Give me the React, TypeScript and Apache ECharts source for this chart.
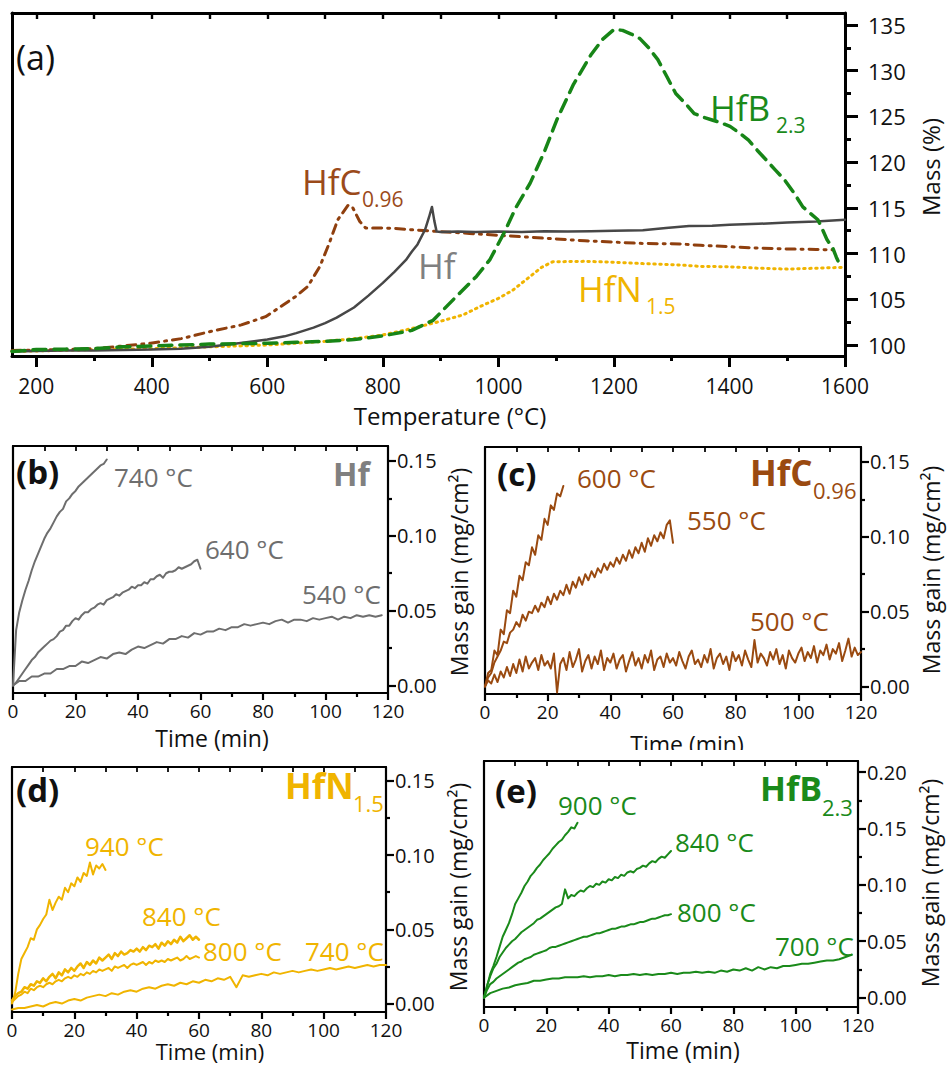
import React, { useEffect, useRef } from "react";
import * as echarts from "echarts";

const FONT = "'Open Sans', 'Noto Sans', 'DejaVu Sans', sans-serif";

// ---------------- Panel (a): TGA, temperature (°C) vs mass (%) ----------------
const tgaHf = [
  [158, 99.3], [200, 99.35], [250, 99.4], [300, 99.4], [350, 99.45], [400, 99.5], [450, 99.6],
  [500, 99.8], [550, 100.2], [600, 100.6], [630, 100.95], [650, 101.3], [680, 101.9], [700, 102.4],
  [720, 103.0], [750, 104.1], [775, 105.4], [800, 106.8], [820, 108.0], [840, 109.3], [850, 110.2],
  [860, 111.0], [873, 112.6], [880, 114.0], [885, 115.1], [889, 113.6], [893, 112.4], [900, 112.35],
  [930, 112.4], [960, 112.35], [1000, 112.4], [1040, 112.35], [1080, 112.45], [1120, 112.4],
  [1160, 112.45], [1200, 112.5], [1250, 112.55], [1290, 112.8], [1330, 113.0], [1370, 113.05],
  [1400, 113.15], [1450, 113.25], [1500, 113.4], [1550, 113.5], [1600, 113.7],
];
const tgaHfC = [
  [158, 99.4], [200, 99.45], [250, 99.5], [300, 99.6], [350, 99.9], [398, 100.2], [451, 100.7],
  [503, 101.5], [555, 102.2], [597, 103.1], [628, 104.4], [649, 105.3], [670, 106.4], [691, 108.6],
  [707, 111.1], [722, 113.7], [740, 115.3], [748, 115.0], [760, 113.5], [770, 112.8], [790, 112.8],
  [820, 112.75], [850, 112.6], [900, 112.4], [950, 112.2], [1000, 112.0], [1050, 111.8],
  [1100, 111.6], [1150, 111.4], [1200, 111.25], [1250, 111.1], [1314, 111.05], [1350, 110.9],
  [1400, 110.75], [1450, 110.6], [1500, 110.5], [1550, 110.45], [1580, 110.4],
];
const tgaHfN = [
  [158, 99.3], [200, 99.35], [300, 99.5], [400, 99.6], [500, 99.8], [600, 100.0], [650, 100.2],
  [700, 100.4], [750, 100.7], [800, 101.1], [850, 101.8], [900, 102.6], [939, 103.3], [968, 104.2],
  [1000, 105.1], [1025, 106.0], [1055, 107.5], [1075, 108.5], [1094, 109.1], [1150, 109.15],
  [1200, 109.05], [1250, 108.9], [1314, 108.75], [1350, 108.6], [1400, 108.55], [1450, 108.4],
  [1500, 108.3], [1550, 108.4], [1600, 108.5],
];
const tgaHfB = [
  [158, 99.3], [200, 99.5], [250, 99.55], [300, 99.6], [350, 99.8], [400, 99.9], [450, 100.0],
  [500, 100.1], [550, 100.15], [600, 100.2], [650, 100.3], [700, 100.4], [750, 100.6], [800, 101.0],
  [850, 101.6], [887, 102.7], [910, 104.2], [935, 105.8], [962, 107.5], [985, 109.3], [1011, 112.4],
  [1030, 115.0], [1055, 117.7], [1080, 121.2], [1101, 124.6], [1130, 128.5], [1160, 131.7],
  [1180, 133.4], [1200, 134.5], [1215, 134.4], [1230, 134.0], [1245, 133.5], [1260, 132.5],
  [1276, 131.2], [1292, 129.3], [1307, 127.5], [1328, 126.1], [1339, 125.3], [1355, 124.9],
  [1370, 124.6], [1385, 124.3], [1401, 123.9], [1417, 123.2], [1433, 122.4], [1448, 121.3],
  [1464, 120.2], [1480, 119.1], [1496, 118.0], [1512, 116.6], [1527, 115.1], [1540, 114.4],
  [1553, 113.7], [1562, 112.5], [1569, 111.5], [1579, 110.6], [1585, 109.6], [1590, 108.9],
];

const aXMajor = [200, 400, 600, 800, 1000, 1200, 1400, 1600];
const aXMinor = [300, 500, 700, 900, 1100, 1300, 1500];
const aXTop = [200, 300, 400, 500, 600, 700, 800, 900, 1000, 1100, 1200, 1300, 1400, 1500, 1600];
const aYMajor = [100, 105, 110, 115, 120, 125, 130, 135];
const aYMinor = [102.5, 107.5, 112.5, 117.5, 122.5, 127.5, 132.5];

// ---------------- Isothermal panels: time (min) vs mass gain (mg/cm²) ----------------
const t30 = [0, 1, 2, 3, 4, 5, 6, 7, 8, 9, 10, 11, 12, 13, 14, 15, 16, 17, 18, 19, 20, 21, 22, 23, 24, 25, 26, 27, 28, 29, 30];
const t60 = [
  0, 1, 2, 3, 4, 5, 6, 7, 8, 9, 10, 11, 12, 13, 14, 15, 16, 17, 18, 19, 20, 21, 22, 23, 24, 25, 26, 27, 28, 29,
  30, 31, 32, 33, 34, 35, 36, 37, 38, 39, 40, 41, 42, 43, 44, 45, 46, 47, 48, 49, 50, 51, 52, 53, 54, 55, 56, 57, 58, 59, 60,
];
const t120s2 = [
  0, 2, 4, 6, 8, 10, 12, 14, 16, 18, 20, 22, 24, 26, 28, 30, 32, 34, 36, 38, 40, 42, 44, 46, 48, 50, 52, 54, 56, 58,
  60, 62, 64, 66, 68, 70, 72, 74, 76, 78, 80, 82, 84, 86, 88, 90, 92, 94, 96, 98, 100, 102, 104, 106, 108, 110, 112, 114, 116, 118, 120,
];
const t120s1 = [
  0, 1, 2, 3, 4, 5, 6, 7, 8, 9, 10, 11, 12, 13, 14, 15, 16, 17, 18, 19, 20, 21, 22, 23, 24, 25, 26, 27, 28, 29,
  30, 31, 32, 33, 34, 35, 36, 37, 38, 39, 40, 41, 42, 43, 44, 45, 46, 47, 48, 49, 50, 51, 52, 53, 54, 55, 56, 57, 58, 59,
  60, 61, 62, 63, 64, 65, 66, 67, 68, 69, 70, 71, 72, 73, 74, 75, 76, 77, 78, 79, 80, 81, 82, 83, 84, 85, 86, 87, 88, 89,
  90, 91, 92, 93, 94, 95, 96, 97, 98, 99, 100, 101, 102, 103, 104, 105, 106, 107, 108, 109, 110, 111, 112, 113, 114, 115, 116, 117, 118, 119, 120,
];

const timeMajor = [0, 20, 40, 60, 80, 100, 120];
const timeMinor = [10, 30, 50, 70, 90, 110];
const timeTop = [0, 10, 20, 30, 40, 50, 60, 70, 80, 90, 100, 110, 120];
const gainMajor = [0, 0.05, 0.1, 0.15];
const gainMinor = [0.025, 0.075, 0.125];
const gainMajorE = [0, 0.05, 0.1, 0.15, 0.2];
const gainMinorE = [0.025, 0.075, 0.125, 0.175];

// (b) Hf
const hf740 = [0, 0.037, 0.049, 0.057, 0.064, 0.070, 0.077, 0.083, 0.088, 0.093, 0.098, 0.102, 0.105, 0.109, 0.113, 0.116, 0.118, 0.123, 0.125, 0.128, 0.130, 0.133, 0.135, 0.137, 0.139, 0.141, 0.143, 0.145, 0.147, 0.148, 0.151];
const hf640 = [
  0.000, 0.002, 0.005, 0.008, 0.011, 0.014, 0.017, 0.019, 0.022, 0.024,
  0.026, 0.028, 0.030, 0.031, 0.033, 0.036, 0.037, 0.040, 0.040, 0.043,
  0.045, 0.044, 0.047, 0.049, 0.049, 0.051, 0.052, 0.054, 0.055, 0.054,
  0.057, 0.058, 0.059, 0.061, 0.060, 0.062, 0.063, 0.064, 0.066, 0.065,
  0.067, 0.067, 0.069, 0.068, 0.071, 0.071, 0.073, 0.074, 0.072, 0.075,
  0.076, 0.076, 0.077, 0.079, 0.078, 0.079, 0.080, 0.081, 0.083, 0.084, 0.078,
];
const hf540 = [
  0.000, 0.003, 0.003, 0.006, 0.006, 0.008, 0.008, 0.011, 0.011, 0.013,
  0.013, 0.016, 0.015, 0.017, 0.019, 0.018, 0.021, 0.022, 0.021, 0.024,
  0.026, 0.025, 0.027, 0.029, 0.028, 0.031, 0.031, 0.033, 0.032, 0.035,
  0.034, 0.036, 0.036, 0.038, 0.037, 0.039, 0.039, 0.041, 0.040, 0.041,
  0.042, 0.041, 0.043, 0.044, 0.042, 0.044, 0.044, 0.043, 0.045, 0.044,
  0.045, 0.046, 0.044, 0.046, 0.045, 0.047, 0.046, 0.047, 0.046, 0.047,
];

// (c) HfC0.96
const hfc600 = [0.000, 0.009, 0.011, 0.024, 0.021, 0.038, 0.035, 0.051, 0.049, 0.064, 0.060, 0.074, 0.071, 0.083, 0.081, 0.093, 0.088, 0.101, 0.098, 0.112, 0.108, 0.121, 0.118, 0.129, 0.127, 0.134];
const hfc550 = [
  0.000, 0.006, 0.009, 0.016, 0.020, 0.024, 0.030, 0.029, 0.036, 0.038,
  0.043, 0.040, 0.048, 0.044, 0.050, 0.049, 0.054, 0.050, 0.056, 0.053,
  0.060, 0.055, 0.062, 0.058, 0.064, 0.061, 0.068, 0.062, 0.070, 0.066,
  0.073, 0.068, 0.075, 0.071, 0.077, 0.073, 0.079, 0.076, 0.082, 0.078,
  0.083, 0.080, 0.086, 0.082, 0.088, 0.084, 0.091, 0.086, 0.093, 0.089,
  0.096, 0.090, 0.099, 0.094, 0.101, 0.097, 0.103, 0.099, 0.108, 0.111, 0.096,
];
const hfc500 = [
  0.000, 0.004, 0.002, 0.008, 0.003, 0.010, 0.006, 0.013, 0.007, 0.015,
  0.009, 0.018, 0.010, 0.020, 0.012, 0.016, 0.019, 0.011, 0.021, 0.014,
  0.017, 0.012, 0.022, -0.004, 0.015, 0.019, 0.011, 0.023, 0.013, 0.018,
  0.025, 0.010, 0.017, 0.021, 0.012, 0.020, 0.015, 0.024, 0.011, 0.019,
  0.016, 0.022, 0.012, 0.018, 0.021, 0.010, 0.017, 0.023, 0.014, 0.019,
  0.012, 0.021, 0.016, 0.024, 0.011, 0.018, 0.020, 0.013, 0.022, 0.016,
  0.019, 0.014, 0.023, 0.017, 0.012, 0.020, 0.024, 0.015, 0.018, 0.013,
  0.021, 0.016, 0.025, 0.012, 0.019, 0.022, 0.015, 0.020, 0.011, 0.023,
  0.017, 0.021, 0.014, 0.024, 0.018, 0.013, 0.031, 0.016, 0.022, 0.019,
  0.014, 0.023, 0.018, 0.025, 0.015, 0.021, 0.012, 0.024, 0.019, 0.016,
  0.022, 0.026, 0.017, 0.023, 0.019, 0.027, 0.016, 0.024, 0.021, 0.028,
  0.018, 0.025, 0.022, 0.029, 0.017, 0.024, 0.032, 0.020, 0.026, 0.021,
  0.023,
];

// (d) HfN1.5
const hfn940 = [0.000, 0.007, 0.020, 0.030, 0.034, 0.038, 0.044, 0.043, 0.050, 0.053, 0.057, 0.060, 0.070, 0.063, 0.068, 0.072, 0.070, 0.078, 0.075, 0.081, 0.079, 0.085, 0.082, 0.088, 0.086, 0.095, 0.087, 0.093, 0.091, 0.094, 0.090];
const hfn840 = [
  0.002, 0.005, 0.007, 0.008, 0.011, 0.010, 0.013, 0.012, 0.015, 0.014,
  0.017, 0.015, 0.018, 0.020, 0.017, 0.021, 0.019, 0.023, 0.021, 0.024,
  0.022, 0.025, 0.027, 0.024, 0.028, 0.026, 0.029, 0.027, 0.031, 0.029,
  0.031, 0.033, 0.030, 0.034, 0.032, 0.035, 0.033, 0.034, 0.036, 0.035,
  0.037, 0.035, 0.038, 0.036, 0.039, 0.038, 0.040, 0.037, 0.041, 0.039,
  0.042, 0.040, 0.043, 0.041, 0.045, 0.042, 0.044, 0.046, 0.043, 0.045, 0.043,
];
const hfn800 = [
  0.001, 0.003, 0.005, 0.006, 0.008, 0.007, 0.010, 0.009, 0.011, 0.012,
  0.011, 0.013, 0.014, 0.013, 0.015, 0.016, 0.015, 0.017, 0.018, 0.017,
  0.019, 0.018, 0.020, 0.019, 0.021, 0.020, 0.022, 0.021, 0.023, 0.022,
  0.023, 0.024, 0.022, 0.025, 0.024, 0.025, 0.026, 0.024, 0.026, 0.027,
  0.026, 0.027, 0.028, 0.026, 0.028, 0.027, 0.029, 0.028, 0.029, 0.028,
  0.030, 0.029, 0.030, 0.031, 0.029, 0.030, 0.032, 0.030, 0.031, 0.032, 0.031,
];
const hfn740 = [
  -0.004, -0.003, -0.003, -0.002, -0.001, -0.002, 0.000, 0.001, 0.000, 0.002,
  0.003, 0.002, 0.004, 0.005, 0.006, 0.005, 0.007, 0.006, 0.008, 0.009,
  0.008, 0.010, 0.011, 0.010, 0.012, 0.013, 0.012, 0.014, 0.013, 0.015,
  0.014, 0.016, 0.015, 0.017, 0.016, 0.018, 0.011, 0.019, 0.018, 0.019,
  0.020, 0.019, 0.021, 0.020, 0.021, 0.022, 0.021, 0.022, 0.023, 0.022,
  0.023, 0.024, 0.023, 0.024, 0.025, 0.024, 0.025, 0.026, 0.025, 0.026, 0.026,
];

// (e) HfB2.3
const hfb900 = [0.000, 0.010, 0.021, 0.028, 0.036, 0.045, 0.054, 0.060, 0.066, 0.074, 0.083, 0.088, 0.093, 0.099, 0.103, 0.108, 0.111, 0.115, 0.118, 0.122, 0.125, 0.128, 0.132, 0.135, 0.138, 0.140, 0.144, 0.147, 0.151, 0.150, 0.155];
const hfb840 = [
  0.000, 0.011, 0.019, 0.026, 0.030, 0.036, 0.040, 0.044, 0.047, 0.050,
  0.052, 0.055, 0.058, 0.060, 0.062, 0.064, 0.066, 0.069, 0.070, 0.072,
  0.074, 0.076, 0.078, 0.080, 0.081, 0.083, 0.096, 0.088, 0.091, 0.090,
  0.093, 0.095, 0.094, 0.097, 0.099, 0.098, 0.101, 0.100, 0.103, 0.102,
  0.105, 0.104, 0.107, 0.106, 0.109, 0.108, 0.111, 0.112, 0.111, 0.114,
  0.115, 0.117, 0.116, 0.119, 0.121, 0.120, 0.123, 0.125, 0.124, 0.127, 0.130,
];
const hfb800 = [
  0.000, 0.007, 0.012, 0.014, 0.017, 0.019, 0.021, 0.023, 0.025, 0.027,
  0.029, 0.031, 0.032, 0.034, 0.035, 0.036, 0.038, 0.039, 0.040, 0.041,
  0.042, 0.044, 0.045, 0.045, 0.046, 0.047, 0.048, 0.049, 0.050, 0.051,
  0.052, 0.053, 0.054, 0.054, 0.055, 0.056, 0.057, 0.057, 0.058, 0.059,
  0.060, 0.061, 0.061, 0.062, 0.063, 0.063, 0.064, 0.065, 0.065, 0.066,
  0.067, 0.067, 0.068, 0.069, 0.070, 0.070, 0.071, 0.072, 0.073, 0.073, 0.074,
];
const hfb700 = [
  0.000, 0.004, 0.006, 0.008, 0.009, 0.011, 0.012, 0.013, 0.015, 0.015,
  0.016, 0.017, 0.017, 0.018, 0.018, 0.018, 0.019, 0.018, 0.019, 0.019,
  0.020, 0.019, 0.020, 0.020, 0.021, 0.020, 0.021, 0.020, 0.021, 0.021,
  0.022, 0.021, 0.022, 0.022, 0.023, 0.022, 0.023, 0.022, 0.024, 0.023,
  0.025, 0.024, 0.026, 0.024, 0.027, 0.025, 0.027, 0.026, 0.028, 0.028,
  0.029, 0.030, 0.030, 0.031, 0.032, 0.033, 0.033, 0.034, 0.036, 0.038,
];

// ---------------- colours ----------------
const GRAY_LINE = "#6e6e6e";
const GRAY_TEXT = "#808080";
const HF_A = "#474747";
const BROWN = "#9a4a10";
const GOLD = "#f0b400";
const GREEN = "#1a8a1a";

function zip(t: number[], v: number[]) {
  const n = Math.min(t.length, v.length);
  const out: number[][] = [];
  for (let i = 0; i < n; i++) out.push([t[i], v[i]]);
  return out;
}

type PanelCfg = {
  rect: { left: number; top: number; width: number; height: number };
  xMin: number; xMax: number; yMin: number; yMax: number;
  xMajor: number[]; xMinor: number[]; xTop: number[];
  yMajor: number[]; yMinor: number[];
  axisW: number; xTickMaj: number; xTickMin: number; yTickMaj: number; yTickMin: number; topTick: number;
  xFont: number; yFont: number; xMargin: number; yMargin: number; yDigits: number;
};

function buildPanel(c: PanelCfg, grids: any[], xAxes: any[], yAxes: any[]) {
  const gA = grids.length;
  grids.push({ ...c.rect, containLabel: false });
  const gB = grids.length;
  grids.push({ ...c.rect, containLabel: false });
  const line = { color: "#000", width: c.axisW };
  const xMain = xAxes.length;
  xAxes.push({
    gridIndex: gA, type: "value", position: "bottom", min: c.xMin, max: c.xMax,
    axisLine: { show: true, onZero: false, lineStyle: line },
    axisTick: { show: true, inside: false, length: c.xTickMaj, customValues: c.xMajor, lineStyle: line },
    axisLabel: {
      show: true, customValues: c.xMajor, fontSize: c.xFont, fontFamily: FONT, color: "#111",
      margin: c.xMargin, showMinLabel: true, showMaxLabel: true,
      formatter: (v: number) => String(Math.round(v)),
    },
    splitLine: { show: false },
  });
  xAxes.push({
    gridIndex: gA, type: "value", position: "top", min: c.xMin, max: c.xMax,
    axisLine: { show: true, onZero: false, lineStyle: line },
    axisTick: { show: true, inside: true, length: c.topTick, customValues: c.xTop, lineStyle: { color: "#000", width: c.axisW * 0.8 } },
    axisLabel: { show: false },
    splitLine: { show: false },
  });
  xAxes.push({
    gridIndex: gB, type: "value", position: "bottom", min: c.xMin, max: c.xMax,
    axisLine: { show: false, onZero: false },
    axisTick: { show: true, inside: false, length: c.xTickMin, customValues: c.xMinor, lineStyle: line },
    axisLabel: { show: false },
    splitLine: { show: false },
  });
  const yMain = yAxes.length;
  yAxes.push({
    gridIndex: gA, type: "value", position: "right", min: c.yMin, max: c.yMax,
    axisLine: { show: true, onZero: false, lineStyle: line },
    axisTick: { show: true, inside: false, length: c.yTickMaj, customValues: c.yMajor, lineStyle: line },
    axisLabel: {
      show: true, customValues: c.yMajor, fontSize: c.yFont, fontFamily: FONT, color: "#111",
      margin: c.yMargin, showMinLabel: true, showMaxLabel: true,
      formatter: (v: number) => v.toFixed(c.yDigits),
    },
    splitLine: { show: false },
  });
  yAxes.push({
    gridIndex: gA, type: "value", position: "left", min: c.yMin, max: c.yMax,
    axisLine: { show: true, onZero: false, lineStyle: line },
    axisTick: { show: false },
    axisLabel: { show: false },
    splitLine: { show: false },
  });
  yAxes.push({
    gridIndex: gB, type: "value", position: "right", min: c.yMin, max: c.yMax,
    axisLine: { show: false, onZero: false },
    axisTick: { show: true, inside: false, length: c.yTickMin, customValues: c.yMinor, lineStyle: line },
    axisLabel: { show: false },
    splitLine: { show: false },
  });
  return { x: xMain, y: yMain };
}

function lineSeries(ax: { x: number; y: number }, data: number[][], color: string, width: number, type: any = "solid", z = 3) {
  return {
    type: "line", xAxisIndex: ax.x, yAxisIndex: ax.y, data, symbol: "none", showSymbol: false,
    silent: true, z,
    lineStyle: { color, width, type, cap: "round", join: "round" },
  };
}

function txt(text: string, x: number, y: number, size: number, fill: string, opts: any = {}) {
  return {
    type: "text", x, y, z: 100, rotation: opts.rotation || 0,
    style: {
      text, fill, fontSize: size, fontFamily: FONT, fontWeight: opts.weight || "normal",
      align: opts.align || "left", verticalAlign: "middle",
    },
  };
}

export default function App() {
  const ref = useRef<HTMLDivElement>(null);
  useEffect(() => {
    if (!ref.current) return;
    const chart = echarts.init(ref.current, undefined, { renderer: "svg" });
    const grids: any[] = [];
    const xAxes: any[] = [];
    const yAxes: any[] = [];

    const small = {
      xMin: 0, xMax: 120, xMajor: timeMajor, xMinor: timeMinor, xTop: timeTop,
      axisW: 2.2, xTickMaj: 7, xTickMin: 4, yTickMaj: 8, yTickMin: 4, topTick: 5,
      xFont: 19, yFont: 20, xMargin: 8, yMargin: 9, yDigits: 2,
    };

    const axA = buildPanel({
      rect: { left: 12, top: 13, width: 833, height: 343 },
      xMin: 158, xMax: 1600, yMin: 98.8, yMax: 136.3,
      xMajor: aXMajor, xMinor: aXMinor, xTop: aXTop, yMajor: aYMajor, yMinor: aYMinor,
      axisW: 3, xTickMaj: 11, xTickMin: 5, yTickMaj: 13, yTickMin: 6, topTick: 6,
      xFont: 21, yFont: 22, xMargin: 19, yMargin: 23, yDigits: 0,
    }, grids, xAxes, yAxes);
    const axB = buildPanel({
      ...small, rect: { left: 13, top: 446, width: 375, height: 247 },
      yMin: -0.005, yMax: 0.16, yMajor: gainMajor, yMinor: gainMinor,
    }, grids, xAxes, yAxes);
    const axC = buildPanel({
      ...small, rect: { left: 485, top: 447, width: 376, height: 247 },
      yMin: -0.005, yMax: 0.16, yMajor: gainMajor, yMinor: gainMinor,
    }, grids, xAxes, yAxes);
    const axD = buildPanel({
      ...small, rect: { left: 12, top: 767, width: 374, height: 245 },
      yMin: -0.0057, yMax: 0.1594, yMajor: gainMajor, yMinor: gainMinor,
    }, grids, xAxes, yAxes);
    const axE = buildPanel({
      ...small, rect: { left: 484, top: 761, width: 374, height: 246 },
      yMin: -0.0083, yMax: 0.2098, yMajor: gainMajorE, yMinor: gainMinorE,
    }, grids, xAxes, yAxes);

    const series = [
      lineSeries(axA, tgaHfN, GOLD, 3, [1.5, 4.5], 3),
      lineSeries(axA, tgaHfC, "#8f3f0e", 3, [9, 6, 2, 6], 4),
      lineSeries(axA, tgaHf, HF_A, 2.5, "solid", 5),
      lineSeries(axA, tgaHfB, "#178517", 3.5, [13, 8], 6),

      lineSeries(axB, zip(t30, hf740), GRAY_LINE, 2),
      lineSeries(axB, zip(t60, hf640), GRAY_LINE, 2),
      lineSeries(axB, zip(t120s2, hf540), GRAY_LINE, 2),

      lineSeries(axC, zip(t30, hfc600), BROWN, 2),
      lineSeries(axC, zip(t60, hfc550), BROWN, 2),
      lineSeries(axC, zip(t120s1, hfc500), BROWN, 2),

      lineSeries(axD, zip(t30, hfn940), GOLD, 2),
      lineSeries(axD, zip(t60, hfn840), GOLD, 2.5),
      lineSeries(axD, zip(t60, hfn800), GOLD, 2),
      lineSeries(axD, zip(t120s2, hfn740), GOLD, 2),

      lineSeries(axE, zip(t30, hfb900), GREEN, 2),
      lineSeries(axE, zip(t60, hfb840), GREEN, 2),
      lineSeries(axE, zip(t60, hfb800), GREEN, 2),
      lineSeries(axE, zip(t120s2, hfb700), GREEN, 2),
    ];

    const graphics = [
      // (a)
      txt("(a)", 16, 57, 34, "#111"),
      txt("HfC", 302, 181, 35, "#9b4a1a"),
      txt("0.96", 362, 199, 21, "#9b4a1a"),
      txt("Hf", 418, 265, 35, GRAY_TEXT),
      txt("HfN", 578, 288, 35, GOLD),
      txt("1.5", 646, 306, 21, GOLD),
      txt("HfB", 710, 107, 35, GREEN),
      txt("2.3", 776, 125, 21, GREEN),
      txt("Temperature (°C)", 450, 415, 24, "#111", { align: "center" }),
      txt("Mass (%)", 930, 167, 24, "#111", { align: "center", rotation: Math.PI / 2 }),
      // (b)
      txt("(b)", 16, 471, 33, "#111", { weight: "bold" }),
      txt("740 °C", 114, 477, 26, GRAY_LINE),
      txt("640 °C", 205, 549, 26, GRAY_LINE),
      txt("540 °C", 302, 594, 26, GRAY_LINE),
      txt("Hf", 333, 473, 32, GRAY_TEXT, { weight: "bold" }),
      txt("Time (min)", 212, 738, 23, "#111", { align: "center" }),
      txt("Mass gain (mg/cm²)", 459, 572, 23, "#111", { align: "center", rotation: Math.PI / 2 }),
      // (c)
      txt("(c)", 497, 473, 33, "#111", { weight: "bold" }),
      txt("600 °C", 577, 478, 26, BROWN),
      txt("550 °C", 687, 520, 26, BROWN),
      txt("500 °C", 750, 621, 26, BROWN),
      txt("HfC", 750, 472, 35, BROWN, { weight: "bold" }),
      txt("0.96", 813, 490, 22, BROWN),
      txt("Time (min)", 687, 744, 23, "#111", { align: "center" }),
      txt("Mass gain (mg/cm²)", 931, 570, 23, "#111", { align: "center", rotation: Math.PI / 2 }),
      // (d)
      txt("(d)", 16, 789, 33, "#111", { weight: "bold" }),
      txt("940 °C", 85, 846, 26, GOLD),
      txt("840 °C", 142, 916, 26, GOLD),
      txt("800 °C", 203, 951, 26, GOLD),
      txt("740 °C", 305, 951, 26, GOLD),
      txt("HfN", 285, 785, 35, GOLD, { weight: "bold" }),
      txt("1.5", 353, 803, 22, GOLD),
      txt("Time (min)", 210, 1051, 22, "#111", { align: "center" }),
      txt("Mass gain (mg/cm²)", 458, 887, 23, "#111", { align: "center", rotation: Math.PI / 2 }),
      // (e)
      txt("(e)", 495, 790, 33, "#111", { weight: "bold" }),
      txt("900 °C", 558, 805, 26, GREEN),
      txt("840 °C", 675, 842, 26, GREEN),
      txt("800 °C", 677, 912, 26, GREEN),
      txt("700 °C", 775, 946, 26, GREEN),
      txt("HfB", 760, 788, 34, GREEN, { weight: "bold" }),
      txt("2.3", 822, 807, 22, GREEN),
      txt("Time (min)", 683, 1050, 23, "#111", { align: "center" }),
      txt("Mass gain (mg/cm²)", 930, 883, 23, "#111", { align: "center", rotation: Math.PI / 2 }),
      // panel (e) image edge hides the lower part of (c)'s axis title
      { type: "rect", z: 101, shape: { x: 470, y: 750, width: 477, height: 9 }, style: { fill: "#fff" } },
    ];

    chart.setOption({
      animation: false,
      backgroundColor: "#fff",
      grid: grids,
      xAxis: xAxes,
      yAxis: yAxes,
      series,
      graphic: graphics,
    });
    return () => chart.dispose();
  }, []);

  return (
    <div
      ref={ref}
      style={{ position: "fixed", left: 0, top: 0, width: 947, height: 1065, background: "#fff" }}
    />
  );
}
